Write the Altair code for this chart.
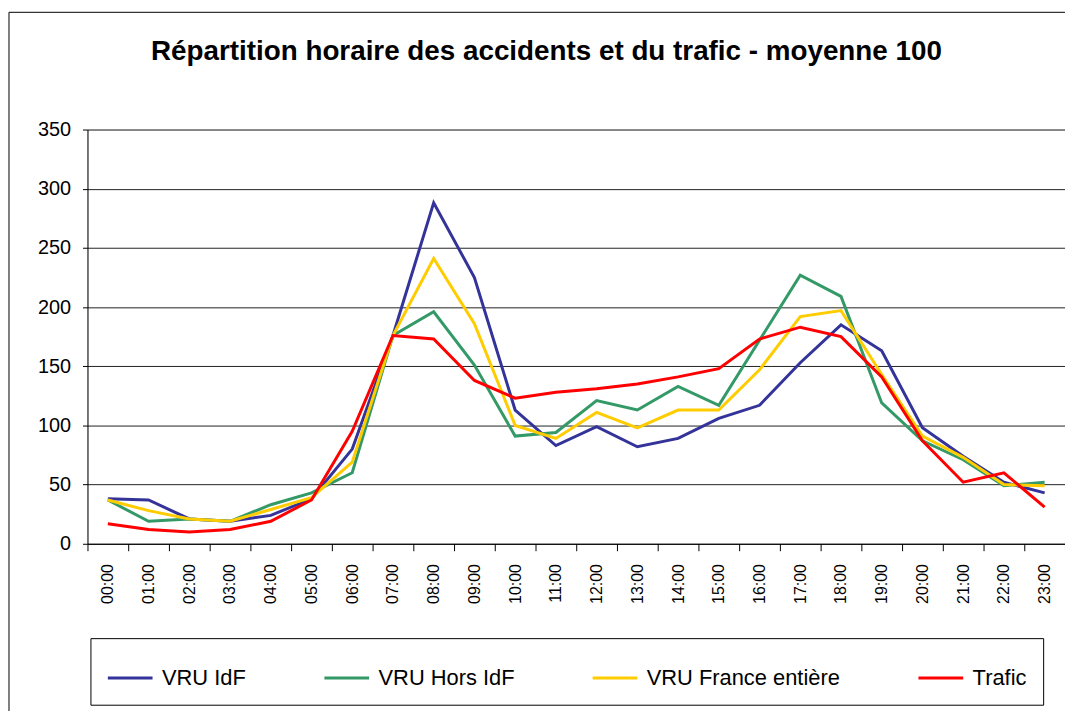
import altair as alt
import pandas as pd

hours = ["00:00", "01:00", "02:00", "03:00", "04:00", "05:00", "06:00", "07:00",
         "08:00", "09:00", "10:00", "11:00", "12:00", "13:00", "14:00", "15:00",
         "16:00", "17:00", "18:00", "19:00", "20:00", "21:00", "22:00", "23:00"]

vru_idf = [38, 37, 21, 19, 24, 38, 80, 176, 288, 225, 113, 83, 99, 82, 89, 106,
           117, 153, 185, 163, 98, 74, 52, 43]
vru_hors_idf = [37, 19, 21, 19, 33, 43, 60, 176, 196, 151, 91, 94, 121, 113, 133, 117,
                172, 227, 209, 119, 87, 71, 49, 52]
vru_france = [37, 28, 21, 19, 29, 39, 69, 176, 241, 186, 100, 89, 111, 98, 113, 113,
              147, 192, 197, 143, 91, 73, 50, 49]
trafic = [17, 12, 10, 12, 19, 37, 95, 176, 173, 138, 123, 128, 131, 135, 141, 148,
          173, 183, 175, 141, 87, 52, 60, 31]

series_names = ["VRU IdF", "VRU Hors IdF", "VRU France entière", "Trafic"]
series_values = [vru_idf, vru_hors_idf, vru_france, trafic]
series_colors = ["#333399", "#339966", "#FFCC00", "#FF0000"]

rows = []
for order, (name, vals) in enumerate(zip(series_names, series_values)):
    for h, v in zip(hours, vals):
        rows.append({"heure": h, "valeur": v, "serie": name, "ordre": order})
df = pd.DataFrame(rows)

FONT = "Liberation Sans"
W, H = 984, 417

lines = alt.Chart(df).mark_line(strokeWidth=3).encode(
    x=alt.X("heure:N", sort=hours, bandPosition=0.5,
            scale=alt.Scale(type="band", paddingInner=0, paddingOuter=0),
            axis=alt.Axis(title=None, labelAngle=-90, labelFontSize=16,
                          labelFont=FONT, labelColor="black", tickBand="extent",
                          tickSize=7, tickColor="black", domainColor="black",
                          labelPadding=13, grid=False)),
    y=alt.Y("valeur:Q",
            scale=alt.Scale(domain=[0, 350], nice=False),
            axis=alt.Axis(title=None, values=list(range(0, 351, 50)),
                          labelFontSize=20, labelFont=FONT, labelColor="black",
                          tickSize=5, tickColor="black", domainColor="black",
                          labelPadding=12, grid=True, gridColor="#222222",
                          gridWidth=1)),
    color=alt.Color("serie:N", sort=series_names,
                    scale=alt.Scale(domain=series_names, range=series_colors),
                    legend=alt.Legend(title=None, orient="none", direction="horizontal",
                                      legendX=3, legendY=512,
                                      symbolType="stroke", symbolSize=2025,
                                      symbolStrokeWidth=3, labelFontSize=22,
                                      labelFont=FONT, labelColor="black",
                                      labelOffset=8, columnPadding=72,
                                      padding=16, strokeColor="black",
                                      fillColor="white", labelLimit=400)),
    order=alt.Order("ordre:Q"),
    detail="serie:N",
)

frame = alt.Chart(pd.DataFrame({"k": [0]})).mark_rect(
    fill="transparent", stroke="black", strokeWidth=1
).encode(
    x=alt.value(-79), x2=alt.value(W + 40),
    y=alt.value(-118), y2=alt.value(H + 200),
)

chart = alt.layer(frame, lines).properties(
    width=W, height=H,
    padding={"left": 80, "top": 120, "right": 0, "bottom": 166},
    autosize=alt.AutoSizeParams(type="none"),
    title=alt.TitleParams(
        "Répartition horaire des accidents et du trafic - moyenne 100",
        font=FONT, fontSize=28, fontWeight="bold", color="black",
        anchor="middle", frame="group", dx=-30, offset=-55,
    ),
).configure_view(strokeWidth=0).configure(background="white")

chart.save("out.html", embed_options={"renderer": "svg", "actions": False})
